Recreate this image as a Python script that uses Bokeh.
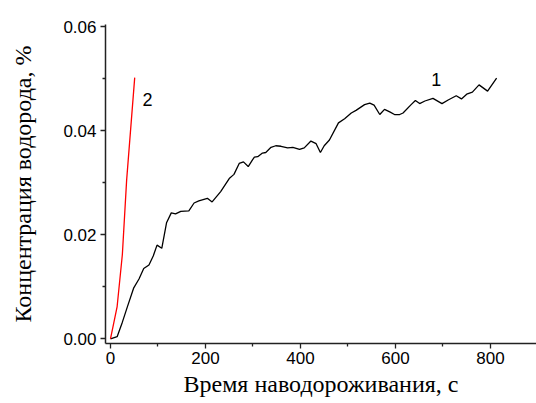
from bokeh.plotting import figure
from bokeh.models import Range1d, FixedTicker, Label
from bokeh.embed import file_html
from bokeh.resources import INLINE

# Curve 1: time (s) vs hydrogen concentration (%)
t1 = [0, 14, 25, 35, 49, 60, 70, 81, 90, 98, 108, 118, 128, 137, 148, 165, 176, 186,
      204, 214, 232, 250, 260, 271, 280, 290, 299, 303, 310, 320, 327, 338, 348, 359,
      373, 384, 398, 408, 422, 433, 442, 450, 461, 480, 493, 507, 517, 535, 546, 555,
      567, 577, 588, 598, 609, 616, 633, 642, 651, 662, 679, 698, 711, 728, 739, 750,
      762, 776, 794, 813]
c1 = [0.0, 0.0004, 0.0032, 0.006, 0.0098, 0.0115, 0.0135, 0.0142, 0.0159, 0.018,
      0.0174, 0.0223, 0.0242, 0.024, 0.0245, 0.0246, 0.0261, 0.0265, 0.027, 0.0263,
      0.0283, 0.0308, 0.0316, 0.0337, 0.034, 0.0331, 0.0344, 0.0349, 0.035, 0.0357,
      0.0358, 0.0368, 0.0371, 0.037, 0.0367, 0.0368, 0.0364, 0.0367, 0.038, 0.0375,
      0.0358, 0.0371, 0.0382, 0.0415, 0.0423, 0.0434, 0.0439, 0.045, 0.0453, 0.0449,
      0.0431, 0.0441, 0.0436, 0.0431, 0.0431, 0.0434, 0.045, 0.0458, 0.0452, 0.0457,
      0.0462, 0.0452, 0.0459, 0.0467, 0.0461, 0.047, 0.0474, 0.0488, 0.0476, 0.0501]

# Curve 2
t2 = [0, 14, 25, 34, 51]
c2 = [0.0, 0.0062, 0.0162, 0.0305, 0.0502]

x_ticks = [0, 200, 400, 600, 800]
x_minor = [100, 300, 500, 700]
y_ticks = [0.0, 0.02, 0.04, 0.06]
y_minor = [0.01, 0.03, 0.05]
y_tick_labels = {0.0: "0.00", 0.02: "0.02", 0.04: "0.04", 0.06: "0.06"}

curve_labels = ["1", "2"]
label_pos_x = [686, 78]
label_pos_y = [0.0499, 0.046]

x_title = "Время наводороживания, с"
y_title = "Концентрация водорода, %"

p = figure(width=536, height=403, output_backend="svg", toolbar_location=None,
           x_range=Range1d(-10.5, 897), y_range=Range1d(-0.0009, 0.0604))
p.min_border_left = 105
p.min_border_right = 0
p.min_border_top = 24
p.min_border_bottom = 60
p.outline_line_color = None
p.grid.visible = False
p.background_fill_color = "white"
p.border_fill_color = "white"

p.line(t1, c1, line_color="black", line_width=1.3)
p.line(t2, c2, line_color="red", line_width=1.3)

for txt, xx, yy in zip(curve_labels, label_pos_x, label_pos_y):
    p.add_layout(Label(x=xx, y=yy, text=txt, text_font="Liberation Sans",
                       text_font_size="18px", text_color="black",
                       text_align="center", text_baseline="middle"))

p.xaxis.ticker = FixedTicker(ticks=x_ticks, minor_ticks=x_minor)
p.yaxis.ticker = FixedTicker(ticks=y_ticks, minor_ticks=y_minor)
p.yaxis.major_label_overrides = y_tick_labels

for ax in (p.xaxis, p.yaxis):
    ax.axis_line_width = 1.5
    ax.axis_line_color = "#222222"
    ax.major_tick_line_color = "#222222"
    ax.minor_tick_line_color = "#222222"
    ax.major_tick_line_width = 1.3
    ax.minor_tick_line_width = 1.3
    ax.major_tick_out = 5
    ax.major_tick_in = 0
    ax.minor_tick_out = 3
    ax.minor_tick_in = 0
    ax.major_label_text_font = "Liberation Sans"
    ax.major_label_text_font_size = "17px"
    ax.major_label_text_color = "black"
    ax.axis_label_text_font = "Liberation Serif"
    ax.axis_label_text_font_size = "24px"
    ax.axis_label_text_font_style = "normal"
    ax.axis_label_text_color = "black"

p.xaxis.axis_label = x_title
p.yaxis.axis_label = y_title
p.xaxis.major_label_standoff = 3
p.xaxis.axis_label_standoff = 4
p.yaxis.major_label_standoff = 4
p.yaxis.axis_label_standoff = 24

open("out.html", "w").write(file_html(p, INLINE))
